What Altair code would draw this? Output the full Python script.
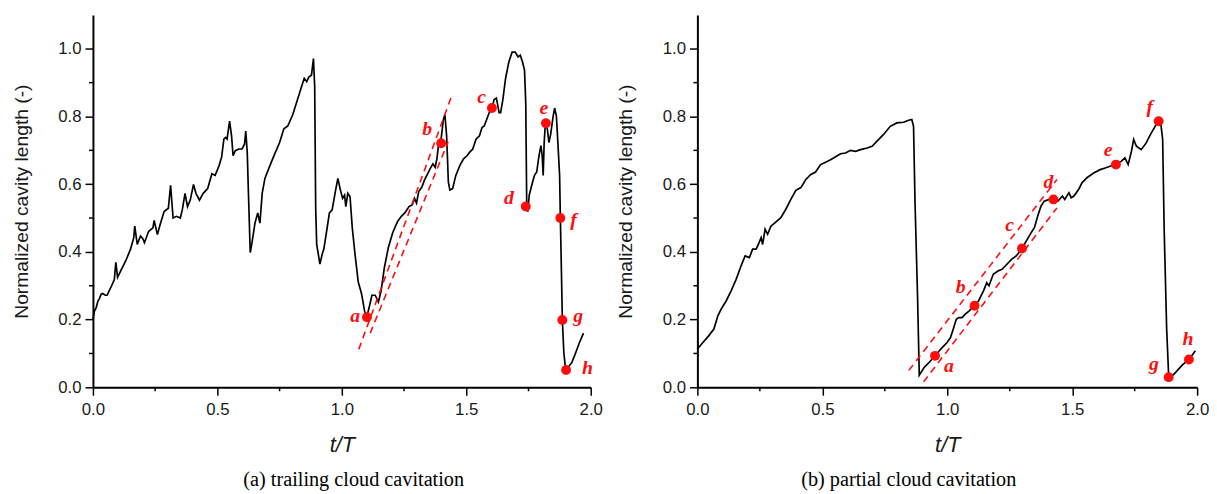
import altair as alt
import pandas as pd

# ---------------- data ----------------
X_MAJOR = [0.0, 0.5, 1.0, 1.5, 2.0]
X_MINOR = [0.25, 0.75, 1.25, 1.75]
Y_MAJOR = [0.0, 0.2, 0.4, 0.6, 0.8, 1.0]
Y_MINOR = [0.1, 0.3, 0.5, 0.7, 0.9]

# (a) trailing cloud cavitation
LEFT_T = [0.000, 0.006, 0.013, 0.020, 0.026, 0.033, 0.039, 0.050, 0.057, 0.065, 0.075, 0.086,
          0.092, 0.099, 0.112, 0.132, 0.151, 0.164, 0.168, 0.178, 0.191, 0.200, 0.207, 0.224,
          0.241, 0.246, 0.259, 0.270, 0.286, 0.303, 0.312, 0.322, 0.336, 0.351, 0.359, 0.370,
          0.380, 0.391, 0.404, 0.414, 0.428, 0.443, 0.461, 0.478, 0.491, 0.507, 0.517, 0.526,
          0.533, 0.539, 0.549, 0.557, 0.563, 0.572, 0.586, 0.599, 0.609, 0.614, 0.620, 0.625,
          0.632, 0.638, 0.651, 0.662, 0.671, 0.680, 0.691, 0.711, 0.730, 0.750, 0.767, 0.783,
          0.803, 0.822, 0.838, 0.849, 0.859, 0.868, 0.878, 0.886, 0.891, 0.895, 0.899, 0.912,
          0.921, 0.928, 0.941, 0.950, 0.961, 0.974, 0.984, 0.993, 1.003, 1.011, 1.016, 1.024,
          1.033, 1.042, 1.053, 1.066, 1.079, 1.092, 1.101, 1.112, 1.121, 1.134, 1.147, 1.158,
          1.171, 1.187, 1.204, 1.224, 1.239, 1.253, 1.270, 1.283, 1.292, 1.300, 1.309, 1.322,
          1.332, 1.345, 1.355, 1.366, 1.375, 1.382, 1.388, 1.397, 1.408, 1.414, 1.421, 1.428,
          1.434, 1.445, 1.458, 1.474, 1.489, 1.503, 1.513, 1.526, 1.539, 1.553, 1.563, 1.572,
          1.582, 1.592, 1.603, 1.612, 1.621, 1.632, 1.638, 1.647, 1.658, 1.671, 1.684, 1.697,
          1.708, 1.717, 1.726, 1.734, 1.739, 1.743, 1.747, 1.753, 1.763, 1.774, 1.783, 1.792,
          1.800, 1.805, 1.809, 1.813, 1.818, 1.826, 1.832, 1.839, 1.849, 1.855, 1.862, 1.868,
          1.875, 1.878, 1.882, 1.886, 1.892, 1.899, 1.908, 1.924, 1.937, 1.954, 1.971]
LEFT_Y = [0.200, 0.225, 0.235, 0.255, 0.262, 0.275, 0.277, 0.272, 0.272, 0.285, 0.300, 0.318,
          0.369, 0.325, 0.345, 0.374, 0.408, 0.442, 0.476, 0.422, 0.447, 0.440, 0.427, 0.461,
          0.471, 0.493, 0.451, 0.481, 0.519, 0.529, 0.597, 0.500, 0.505, 0.500, 0.524, 0.573,
          0.534, 0.553, 0.599, 0.573, 0.553, 0.573, 0.587, 0.631, 0.626, 0.655, 0.680, 0.733,
          0.738, 0.733, 0.786, 0.743, 0.684, 0.699, 0.704, 0.704, 0.718, 0.757, 0.694, 0.568,
          0.398, 0.422, 0.485, 0.515, 0.485, 0.573, 0.617, 0.655, 0.689, 0.723, 0.764, 0.772,
          0.806, 0.850, 0.888, 0.913, 0.903, 0.917, 0.922, 0.971, 0.888, 0.529, 0.422, 0.364,
          0.393, 0.410, 0.471, 0.515, 0.524, 0.578, 0.617, 0.587, 0.558, 0.568, 0.534, 0.573,
          0.563, 0.471, 0.393, 0.311, 0.277, 0.223, 0.209, 0.243, 0.272, 0.272, 0.252, 0.286,
          0.354, 0.413, 0.456, 0.490, 0.505, 0.515, 0.534, 0.539, 0.558, 0.544, 0.578, 0.592,
          0.612, 0.631, 0.646, 0.660, 0.650, 0.675, 0.714, 0.723, 0.791, 0.806, 0.743, 0.607,
          0.583, 0.587, 0.626, 0.655, 0.675, 0.684, 0.694, 0.704, 0.733, 0.743, 0.767, 0.772,
          0.791, 0.811, 0.825, 0.850, 0.854, 0.811, 0.811, 0.850, 0.913, 0.961, 0.990, 0.990,
          0.976, 0.981, 0.961, 0.937, 0.840, 0.529, 0.519, 0.568, 0.597, 0.626, 0.636, 0.684,
          0.714, 0.684, 0.626, 0.723, 0.782, 0.762, 0.723, 0.747, 0.801, 0.825, 0.801, 0.723,
          0.626, 0.500, 0.354, 0.199, 0.102, 0.053, 0.058, 0.073, 0.097, 0.131, 0.160]

# (b) partial cloud cavitation
RIGHT_T = [0.000, 0.023, 0.045, 0.066, 0.082, 0.095, 0.115, 0.135, 0.155, 0.175, 0.191, 0.208,
           0.221, 0.235, 0.244, 0.255, 0.261, 0.271, 0.281, 0.294, 0.310, 0.334, 0.354, 0.374,
           0.394, 0.414, 0.434, 0.454, 0.473, 0.493, 0.513, 0.533, 0.553, 0.573, 0.593, 0.613,
           0.633, 0.653, 0.679, 0.699, 0.719, 0.745, 0.772, 0.798, 0.825, 0.845, 0.858, 0.865,
           0.871, 0.881, 0.888, 0.908, 0.928, 0.951, 0.974, 1.000, 1.013, 1.026, 1.036, 1.046,
           1.059, 1.072, 1.088, 1.109, 1.125, 1.145, 1.158, 1.167, 1.184, 1.204, 1.220, 1.233,
           1.257, 1.276, 1.299, 1.316, 1.336, 1.349, 1.362, 1.375, 1.388, 1.408, 1.425, 1.443,
           1.461, 1.470, 1.487, 1.496, 1.507, 1.526, 1.539, 1.559, 1.586, 1.612, 1.632, 1.651,
           1.675, 1.697, 1.711, 1.724, 1.737, 1.746, 1.757, 1.776, 1.796, 1.816, 1.836, 1.846,
           1.855, 1.862, 1.868, 1.878, 1.886, 1.891, 1.914, 1.941, 1.967, 1.993]
RIGHT_Y = [0.113, 0.133, 0.152, 0.172, 0.211, 0.231, 0.255, 0.285, 0.319, 0.359, 0.388, 0.383,
           0.408, 0.408, 0.422, 0.442, 0.422, 0.467, 0.452, 0.476, 0.486, 0.501, 0.526, 0.555,
           0.582, 0.590, 0.614, 0.629, 0.636, 0.658, 0.665, 0.672, 0.681, 0.690, 0.692, 0.700,
           0.697, 0.702, 0.707, 0.712, 0.727, 0.747, 0.771, 0.781, 0.783, 0.789, 0.791, 0.771,
           0.545, 0.270, 0.036, 0.059, 0.074, 0.093, 0.113, 0.133, 0.147, 0.177, 0.201, 0.206,
           0.206, 0.216, 0.226, 0.241, 0.255, 0.285, 0.309, 0.300, 0.334, 0.344, 0.349, 0.359,
           0.378, 0.388, 0.410, 0.432, 0.457, 0.472, 0.506, 0.535, 0.550, 0.555, 0.555, 0.550,
           0.565, 0.555, 0.575, 0.560, 0.565, 0.585, 0.604, 0.619, 0.633, 0.643, 0.648, 0.653,
           0.658, 0.668, 0.678, 0.658, 0.697, 0.732, 0.712, 0.702, 0.722, 0.751, 0.776, 0.786,
           0.776, 0.732, 0.467, 0.172, 0.034, 0.027, 0.044, 0.066, 0.082, 0.108]

POINT_LABELS = ["a", "b", "c", "d", "e", "f", "g", "h"]
LEFT_PT_T = [1.101, 1.399, 1.603, 1.739, 1.820, 1.878, 1.886, 1.901]
LEFT_PT_Y = [0.207, 0.721, 0.825, 0.534, 0.780, 0.500, 0.199, 0.051]
RIGHT_PT_T = [0.951, 1.109, 1.299, 1.425, 1.675, 1.846, 1.886, 1.967]
RIGHT_PT_Y = [0.093, 0.241, 0.410, 0.555, 0.658, 0.786, 0.030, 0.082]

# dashed guide lines (end points)
LEFT_DASH_1_T = [1.068, 1.442]
LEFT_DASH_1_Y = [0.112, 0.862]
LEFT_DASH_2_T = [1.114, 1.427]
LEFT_DASH_2_Y = [0.160, 0.725]
RIGHT_DASH_1_T = [0.846, 1.439]
RIGHT_DASH_1_Y = [0.050, 0.614]
RIGHT_DASH_2_T = [0.905, 1.439]
RIGHT_DASH_2_Y = [0.016, 0.530]

CAPTION_A = "(a) trailing cloud cavitation"
CAPTION_B = "(b) partial cloud cavitation"

# ---------------- style (label placement) ----------------
LEFT_LABEL_STYLE = {"a": ("right", -7, -1), "b": ("right", -9, -14), "c": ("right", -6, -11),
                    "d": ("right", -12, -9), "e": ("center", -2, -15), "f": ("left", 10, 2),
                    "g": ("left", 11, -4), "h": ("left", 16, -2)}
RIGHT_LABEL_STYLE = {"a": ("left", 9, 10), "b": ("right", -9, -19), "c": ("right", -8, -24),
                     "d": ("center", -5, -18), "e": ("center", -8, -15), "f": ("center", -9, -14),
                     "g": ("right", -10, -13), "h": ("center", -1, -21)}

RED = "#ff0d0d"
SANS = "Liberation Sans"
SERIF = "Liberation Serif"
MAJOR_TICK = 8
MINOR_TICK = 4


def make_panel(ct, cy, pt, py, dashes, label_style, caption, cap_dx, width, height):
    curve = pd.DataFrame({"t": ct, "y": cy, "i": list(range(len(ct)))})
    pts = pd.DataFrame({"t": pt, "y": py, "lab": POINT_LABELS})
    rows = []
    for k, (dt, dy) in enumerate(dashes):
        for a, b in zip(dt, dy):
            rows.append({"t": a, "y": b, "k": k})
    dash_df = pd.DataFrame(rows)

    xs = alt.Scale(domain=[0, 2.0], nice=False, zero=False)
    ys = alt.Scale(domain=[0, 1.1], nice=False, zero=False)

    xaxis = alt.Axis(
        title="t/T", values=X_MAJOR, grid=False, format=".1f", tickSize=MAJOR_TICK,
        labelPadding=7, labelFlush=False, labelOverlap=False,
        titleFontStyle="italic", titleFontSize=22, titlePadding=17,
    )
    yaxis = alt.Axis(
        title="Normalized cavity length (-)", values=Y_MAJOR, grid=False, format=".1f",
        tickSize=MAJOR_TICK, labelPadding=4, labelFlush=False, labelOverlap=False,
        titleFontSize=19.5, titlePadding=27,
    )
    X = alt.X("t:Q", scale=xs, axis=xaxis)
    Y = alt.Y("y:Q", scale=ys, axis=yaxis)

    line = alt.Chart(curve).mark_line(color="black", strokeWidth=1.7).encode(
        x=X, y=Y, order="i:Q",
    )
    xminor = alt.Chart(pd.DataFrame({"t": X_MINOR})).mark_rule(color="black", strokeWidth=1.5).encode(
        x=X, y=alt.value(height), y2=alt.value(height + MINOR_TICK),
    )
    yminor = alt.Chart(pd.DataFrame({"y": Y_MINOR})).mark_rule(color="black", strokeWidth=1.5).encode(
        y=Y, x=alt.value(-MINOR_TICK), x2=alt.value(0),
    )
    dash = alt.Chart(dash_df).mark_line(color=RED, strokeWidth=1.6, strokeDash=[7, 5]).encode(
        x=X, y=Y, detail="k:N",
    )
    dots = alt.Chart(pts).mark_circle(color=RED, size=100, opacity=1).encode(x=X, y=Y)
    texts = []
    for lab in POINT_LABELS:
        al, dx, dy = label_style[lab]
        texts.append(
            alt.Chart(pts).transform_filter(alt.datum.lab == lab).mark_text(
                align=al, baseline="middle", dx=dx, dy=dy, font=SERIF, fontStyle="italic",
                fontWeight="bold", fontSize=20, color=RED,
            ).encode(x=X, y=Y, text="lab:N")
        )
    return alt.layer(line, xminor, yminor, dash, dots, *texts).properties(
        width=width, height=height,
        title=alt.TitleParams(caption, orient="bottom", anchor="middle", frame="group",
                              font=SERIF, fontSize=20.5, fontWeight="normal", color="black",
                              offset=15, dx=cap_dx),
    )


left = make_panel(LEFT_T, LEFT_Y, LEFT_PT_T, LEFT_PT_Y,
                  [(LEFT_DASH_1_T, LEFT_DASH_1_Y), (LEFT_DASH_2_T, LEFT_DASH_2_Y)],
                  LEFT_LABEL_STYLE, CAPTION_A, 12, 504, 377)
right = make_panel(RIGHT_T, RIGHT_Y, RIGHT_PT_T, RIGHT_PT_Y,
                   [(RIGHT_DASH_1_T, RIGHT_DASH_1_Y), (RIGHT_DASH_2_T, RIGHT_DASH_2_Y)],
                   RIGHT_LABEL_STYLE, CAPTION_B, -39, 506, 377)

chart = alt.hconcat(left, right, spacing=13).properties(
    padding={"left": 3, "top": 4, "right": 0, "bottom": 0},
    background="white",
).configure_view(stroke=None).configure_axis(
    domainColor="black", domainWidth=2, tickColor="black", tickWidth=1.5,
    labelFont=SANS, labelFontSize=17, labelColor="#1a1a1a",
    titleFont=SANS, titleFontWeight="normal", titleColor="#1a1a1a",
)

chart.save("out.html", embed_options={"renderer": "svg", "actions": False})
